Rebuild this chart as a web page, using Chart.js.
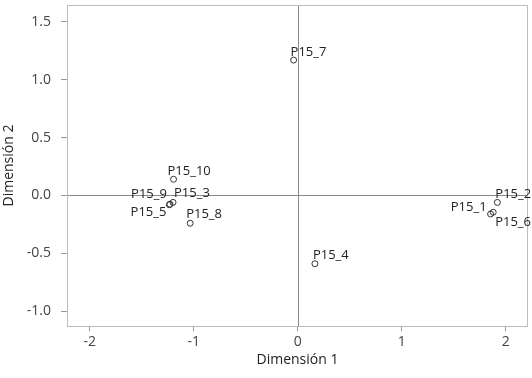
<!DOCTYPE html>
<html>
<head>
<meta charset="utf-8">
<script src="https://cdn.jsdelivr.net/npm/chart.js@4"></script>
<style>
  html, body { margin: 0; padding: 0; background: #fff; }
  #wrap { width: 532px; height: 378px; }
</style>
</head>
<body>
<div id="wrap"><canvas id="c" width="532" height="378"></canvas></div>
<script>
// ---- data ----
const pointLabels = ["P15_1","P15_2","P15_3","P15_4","P15_5","P15_6","P15_7","P15_8","P15_9","P15_10"];
const dim1Values  = [1.855, 1.92, -1.20, 0.165, -1.235, 1.88, -0.04, -1.035, -1.23, -1.195];
const dim2Values  = [-0.16, -0.06, -0.06, -0.59, -0.08, -0.145, 1.17, -0.24, -0.075, 0.14];
const xTickValues = [-2, -1, 0, 1, 2];
const yTickValues = [-1.0, -0.5, 0.0, 0.5, 1.0, 1.5];
const xTitle = "Dimensión 1";
const yTitle = "Dimensión 2";

// ---- label placement (style) ----
const labelPlace = {
  "P15_1":  {align: "right", dx: -4, dy: -3},
  "P15_2":  {align: "left",  dx: -2, dy: -4},
  "P15_3":  {align: "left",  dx: 1,  dy: -5},
  "P15_4":  {align: "left",  dx: -2, dy: -5},
  "P15_5":  {align: "right", dx: -3, dy: 11},
  "P15_6":  {align: "left",  dx: 2,  dy: 14},
  "P15_7":  {align: "left",  dx: -3, dy: -4},
  "P15_8":  {align: "left",  dx: -4, dy: -5},
  "P15_9":  {align: "right", dx: -3, dy: -6},
  "P15_10": {align: "left",  dx: -6, dy: -4}
};

const FONT = "'Open Sans', 'Noto Sans', sans-serif";

const frameAndLabels = {
  id: 'frameAndLabels',
  beforeDatasetsDraw(chart) {
    const {ctx, chartArea: a, scales: {x, y}} = chart;
    ctx.save();
    ctx.strokeStyle = '#8a8a8a';
    ctx.lineWidth = 1;
    const x0 = Math.round(x.getPixelForValue(0)) + 0.5;
    const y0 = Math.round(y.getPixelForValue(0)) + 0.5;
    ctx.beginPath();
    ctx.moveTo(x0, a.top); ctx.lineTo(x0, a.bottom);
    ctx.moveTo(a.left, y0); ctx.lineTo(a.right, y0);
    ctx.stroke();
    ctx.strokeStyle = '#bdbdbd';
    ctx.strokeRect(Math.round(a.left) + 0.5, Math.round(a.top) + 0.5,
                   Math.round(a.right - a.left) - 1, Math.round(a.bottom - a.top));
    ctx.restore();
  },
  afterDatasetsDraw(chart) {
    const {ctx} = chart;
    const meta = chart.getDatasetMeta(0);
    ctx.save();
    ctx.font = "13px " + FONT;
    ctx.fillStyle = '#222';
    ctx.textBaseline = 'alphabetic';
    meta.data.forEach((el, i) => {
      const lab = pointLabels[i];
      const p = labelPlace[lab];
      ctx.textAlign = p.align;
      ctx.fillText(lab, el.x + p.dx, el.y + p.dy);
    });
    ctx.restore();
  }
};

new Chart(document.getElementById('c'), {
  type: 'scatter',
  data: {
    datasets: [{
      data: dim1Values.map((v, i) => ({x: v, y: dim2Values[i]})),
      pointRadius: 3,
      pointHoverRadius: 3,
      pointBackgroundColor: 'rgba(255,255,255,0)',
      pointBorderColor: '#333',
      pointBorderWidth: 1
    }]
  },
  options: {
    responsive: false,
    animation: false,
    events: [],
    layout: { padding: { top: 5, right: 0, left: 0, bottom: 0 } },
    plugins: { legend: { display: false }, tooltip: { enabled: false } },
    scales: {
      x: {
        type: 'linear',
        min: -2.22, max: 2.215,
        afterBuildTicks(s) { s.ticks = xTickValues.map(v => ({value: v})); },
        afterFit(s) { s.height = 52; s.paddingLeft = 0; s.paddingRight = 0; },
        grid: { drawOnChartArea: false, drawTicks: true, tickLength: 5, color: '#999' },
        border: { display: false },
        ticks: {
          padding: 3,
          color: '#444',
          font: { family: FONT, size: 14 },
          callback: v => String(v)
        },
        title: {
          display: true, text: xTitle, color: '#222',
          font: { family: FONT, size: 14 },
          padding: { top: 0, bottom: 10 }
        }
      },
      y: {
        type: 'linear',
        min: -1.128, max: 1.646,
        afterBuildTicks(s) { s.ticks = yTickValues.map(v => ({value: v})); },
        afterFit(s) { s.width = 67; s.paddingTop = 0; s.paddingBottom = 0; },
        grid: { drawOnChartArea: false, drawTicks: true, tickLength: 6, color: '#999' },
        border: { display: false },
        ticks: {
          padding: 10,
          color: '#444',
          font: { family: FONT, size: 14 },
          callback: v => Number(v).toFixed(1)
        },
        title: {
          display: true, text: yTitle, color: '#222',
          font: { family: FONT, size: 14 },
          padding: { top: 1, bottom: 0 }
        }
      }
    }
  },
  plugins: [frameAndLabels]
});
</script>
</body>
</html>
